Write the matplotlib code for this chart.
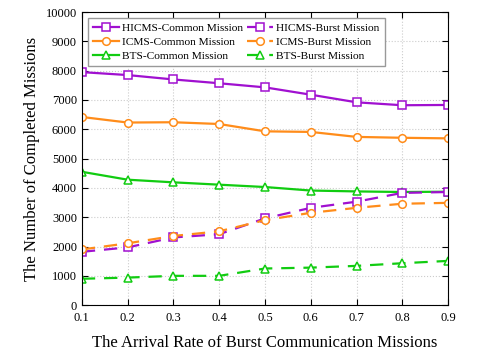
import matplotlib.pyplot as plt

plt.rcParams['font.family'] = 'Liberation Serif'

# arrival rate of burst missions
rates = [0.1, 0.2, 0.3, 0.4, 0.5, 0.6, 0.7, 0.8, 0.9]

# completed missions
hicms_common = [7950, 7850, 7700, 7570, 7430, 7180, 6920, 6820, 6830]
icms_common = [6420, 6230, 6240, 6180, 5930, 5910, 5740, 5710, 5690]
bts_common = [4550, 4280, 4190, 4110, 4030, 3910, 3880, 3860, 3870]
hicms_burst = [1820, 1970, 2310, 2420, 2960, 3320, 3530, 3830, 3860]
icms_burst = [1900, 2110, 2360, 2520, 2900, 3150, 3320, 3460, 3490]
bts_burst = [900, 940, 1000, 1000, 1250, 1280, 1340, 1430, 1510]

purple = '#A010D0'
orange = '#FF8C1A'
green = '#11CC11'

fig = plt.figure(figsize=(4.93, 3.54), dpi=100)
ax = fig.add_axes([0.166, 0.138, 0.743, 0.828])

style = dict(lw=1.6, ms=5.5, mfc='white', mew=1.1)
ax.plot(rates, hicms_common, '-', marker='s', color=purple, label='HICMS-Common Mission', **style)
ax.plot(rates, icms_common, '-', marker='o', color=orange, label='ICMS-Common Mission', **style)
ax.plot(rates, bts_common, '-', marker='^', color=green, label='BTS-Common Mission', **style)
ax.plot(rates, hicms_burst, '--', marker='s', color=purple, label='HICMS-Burst Mission', dashes=(6, 4), **style)
ax.plot(rates, icms_burst, '--', marker='o', color=orange, label='ICMS-Burst Mission', dashes=(6, 4), **style)
ax.plot(rates, bts_burst, '--', marker='^', color=green, label='BTS-Burst Mission', dashes=(6, 4), **style)

ax.set_xlim(0.1, 0.9)
ax.set_ylim(0, 10000)
ax.set_xticks(rates)
ax.set_yticks(range(0, 10001, 1000))
ax.tick_params(direction='in', top=True, right=True, labelsize=9, length=4)
ax.tick_params(axis='x', pad=5)
ax.grid(True, ls=':', color='#cccccc', lw=0.8)

ax.set_xlabel('The Arrival Rate of Burst Communication Missions', fontsize=12, labelpad=8)
ax.set_ylabel('The Number of Completed Missions', fontsize=12)

ax.legend(ncol=2, loc='upper left', fontsize=8.2, handlelength=2.3, columnspacing=0.3,
          handletextpad=0.3, labelspacing=0.35, borderpad=0.45, fancybox=False,
          edgecolor='#999999', framealpha=1)

fig.savefig('out.png', dpi=100)
